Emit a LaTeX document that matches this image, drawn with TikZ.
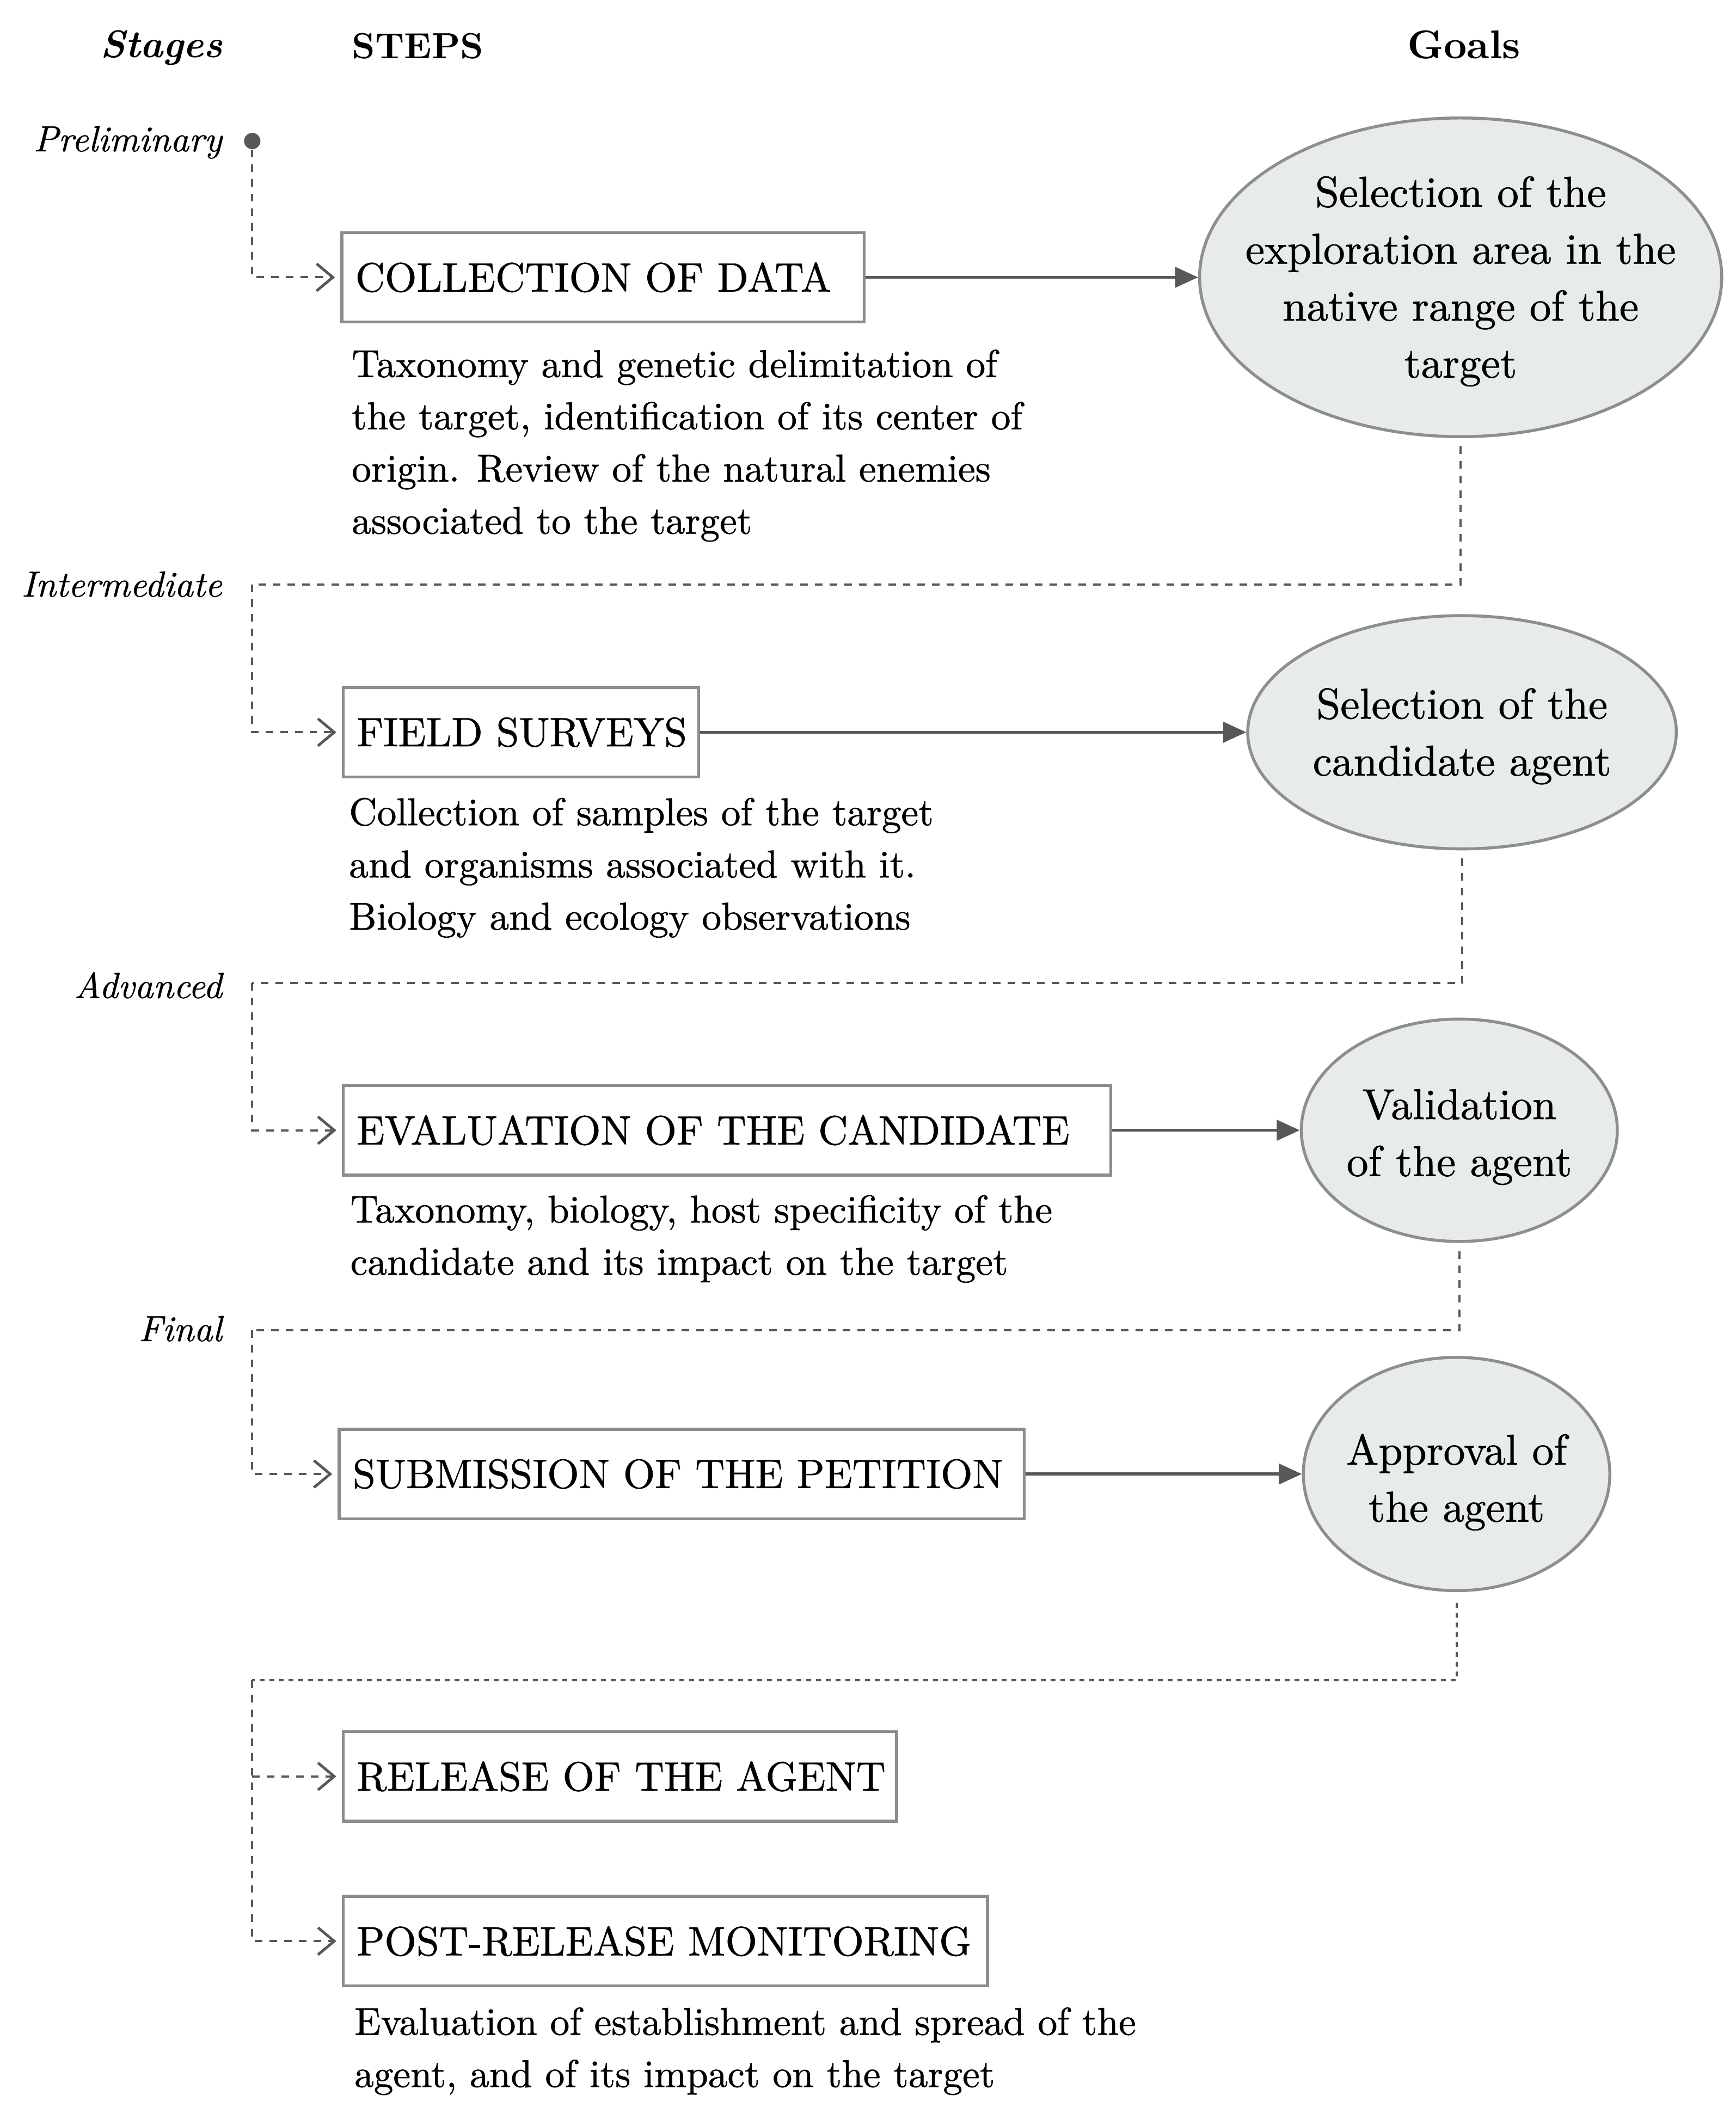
\documentclass[tikz,border=0pt]{standalone}
\usepackage{fontspec}
\setmainfont{lmroman10-regular.otf}[
  ItalicFont=lmroman10-italic.otf,
  BoldFont=lmroman10-bold.otf,
  BoldItalicFont=lmroman10-bolditalic.otf,
  UprightFeatures={FakeBold=0.9},
  ItalicFeatures={FakeBold=0.7}]
\usetikzlibrary{arrows.meta,shapes.geometric,calc}
\definecolor{boxgray}{HTML}{8C8C8C}
\definecolor{linegray}{HTML}{585858}
\definecolor{ellfill}{HTML}{E8EBEC}
\definecolor{ellline}{HTML}{8E8E8E}
\begin{document}
\begin{tikzpicture}[x=0.5pt,y=-0.5pt,
  stepbox/.style={draw=boxgray,line width=1.1pt,rectangle,anchor=west,minimum height=33pt,inner xsep=5pt,inner ysep=0pt,align=left,font=\fontsize{15.05}{18}\selectfont},
  goal/.style={ellipse,draw=ellline,line width=1.1pt,fill=ellfill,inner sep=0pt},
  goaltext/.style={align=center,inner sep=0pt,font=\fontsize{15.9}{21}\selectfont},
  desc/.style={anchor=north west,align=left,inner sep=0pt,font=\fontsize{14.3}{19.25}\selectfont},
  stage/.style={anchor=base east,inner sep=0pt,font=\fontsize{13.4}{16}\selectfont\itshape},
  header/.style={anchor=base,inner sep=0pt,font=\fontsize{14}{17}\selectfont\bfseries},
  flow/.style={draw=linegray,line width=1.1pt,-{Triangle[length=8.5pt,width=7.5pt]}},
  link/.style={draw=linegray,line width=0.8pt,dash pattern=on 2.8pt off 2.6pt},
  linkarrow/.style={link,-{Straight Barb[length=6pt,width=10pt,line width=1pt]},shorten >=2pt},
  fine/.style={draw=linegray,line width=0.8pt,dash pattern=on 1.8pt off 1.8pt}
]
\useasboundingbox (0,0) rectangle (1280,1563.4);

% headers
\node[header,font=\fontsize{14.2}{17}\selectfont\bfseries\itshape] (hstages) at (119,42.5) {Stages};
\node[header,font=\fontsize{13.4}{17}\selectfont\bfseries] (hsteps) at (308,43) {STEPS};
\node[header,font=\fontsize{14.8}{17}\selectfont\bfseries] (hgoals) at (1079.5,43) {Goals};

% stage labels
\node[stage] (sprel) at (164,111.6) {Preliminary};
\node[stage] (sint) at (164,440) {Intermediate};
\node[stage] (sadv) at (164,736) {Advanced};
\node[stage] (sfin) at (164,989) {Final};

% step boxes
\node[stepbox,text width=182.5pt] (b1) at (251,204.5) {\mbox{COLLECTION OF DATA}};
\node[stepbox,text width=121pt] (b2) at (252,540) {\mbox{FIELD SURVEYS}};
\node[stepbox,text width=273pt] (b3) at (252,833.5) {\mbox{EVALUATION OF THE CANDIDATE}};
\node[stepbox,text width=242.5pt] (b4) at (249,1087) {\mbox{SUBMISSION OF THE PETITION}};
\node[stepbox,text width=194pt] (b5) at (252,1310) {\mbox{RELEASE OF THE AGENT}};
\node[stepbox,text width=227.5pt] (b6) at (252,1431.5) {\mbox{POST-RELEASE MONITORING}};

% descriptions
\node[desc] (d1) at (259,257.5) {Taxonomy and genetic delimitation of\\the target, identification of its center of\\origin. Review of the natural enemies\\associated to the target};
\node[desc] (d2) at (257,588) {Collection of samples of the target\\and organisms associated with it.\\Biology and ecology observations};
\node[desc] (d3) at (258,881) {Taxonomy, biology, host specificity of the\\candidate and its impact on the target};
\node[desc] (d6) at (261,1480) {Evaluation of establishment and spread of the\\agent, and of its impact on the target};

% goals
\node[goal,minimum width=192.5pt,minimum height=117.5pt] (e1) at (1077,204.5) {};
\node[goaltext] (e1t) at ($(e1)+(0,3)$) {Selection of the\\exploration area in the\\native range of the\\target};
\node[goal,minimum width=158pt,minimum height=86pt] (e2) at (1078,540) {};
\node[goaltext] (e2t) at ($(e2)+(0,3)$) {Selection of the\\candidate agent};
\node[goal,minimum width=116.5pt,minimum height=82pt] (e3) at (1076,833.5) {};
\node[goaltext] (e3t) at ($(e3)+(0,5)$) {Validation\\of the agent};
\node[goal,minimum width=113pt,minimum height=86pt] (e4) at (1074,1087) {};
\node[goaltext] (e4t) at ($(e4)+(0,6)$) {Approval of\\the agent};

% solid arrows
\draw[flow] (b1.east) -- (e1.west);
\draw[flow] (b2.east) -- (e2.west);
\draw[flow] (b3.east) -- (e3.west);
\draw[flow] (b4.east) -- (e4.west);

% dashed connectors
\node[circle,fill=linegray,inner sep=0pt,minimum size=6pt] (dot) at (186,104) {};
\coordinate (c1) at (186,431);
\coordinate (c2) at (186,725);
\coordinate (c3) at (186,981);
\coordinate (c4) at (186,1239);

\draw[linkarrow] (dot.south) |- (b1.west);
\draw[link,shorten <=3pt] (e1.south) |- (c1);
\draw[linkarrow] (c1) |- (b2.west);
\draw[link,shorten <=3pt] (e2.south) |- (c2);
\draw[linkarrow] (c2) |- (b3.west);
\draw[link,shorten <=3pt] (e3.south) |- (c3);
\draw[linkarrow] (c3) |- (b4.west);
\draw[fine,shorten <=4pt] (e4.south) |- (c4);
\draw[linkarrow] (c4) |- (b6.west);
\draw[linkarrow] (c4 |- b5.west) -- (b5.west);
\end{tikzpicture}
\end{document}
